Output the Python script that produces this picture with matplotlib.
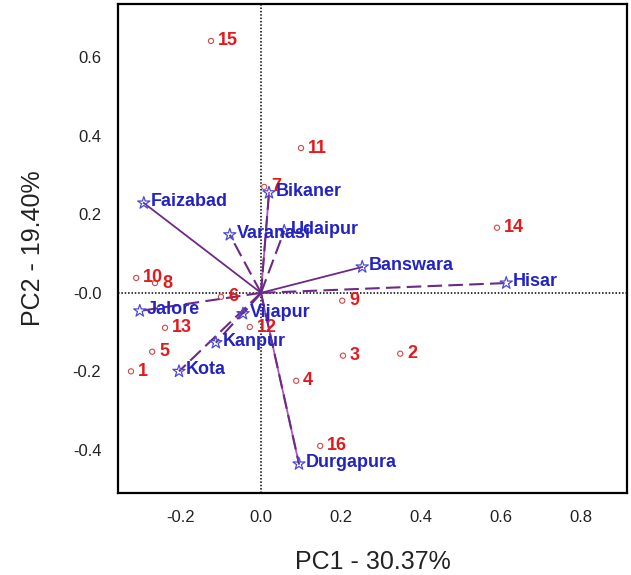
import matplotlib.pyplot as plt

plt.rcParams['font.family'] = ['Liberation Sans', 'DejaVu Sans']

# genotype scores
obs_labels = ['1', '2', '3', '4', '5', '6', '7', '8', '9', '10', '11', '12', '13', '14', '15', '16']
obs_pc1 = [-0.325, 0.348, 0.205, 0.088, -0.272, -0.100, 0.008, -0.265, 0.203, -0.312, 0.100, -0.028, -0.240, 0.590, -0.125, 0.148]
obs_pc2 = [-0.200, -0.155, -0.160, -0.224, -0.150, -0.010, 0.270, 0.025, -0.020, 0.038, 0.369, -0.087, -0.089, 0.166, 0.642, -0.390]

# environment loadings
env_labels = ['Faizabad', 'Bikaner', 'Varanasi', 'Udaipur', 'Banswara', 'Hisar',
              'Jalore', 'Vijapur', 'Kanpur', 'Kota', 'Durgapura']
env_pc1 = [-0.293, 0.020, -0.078, 0.058, 0.253, 0.613, -0.303, -0.045, -0.113, -0.205, 0.095]
env_pc2 = [0.229, 0.255, 0.148, 0.158, 0.066, 0.025, -0.046, -0.053, -0.127, -0.200, -0.436]

solid_vec = ['Faizabad', 'Banswara', 'Bikaner', 'Durgapura']
dashed_vec = ['Bikaner', 'Varanasi', 'Udaipur', 'Hisar', 'Jalore', 'Vijapur', 'Kanpur', 'Kota', 'Durgapura']

purple = '#6a2a86'
blue = '#2323c4'
red = '#e3191c'

fig = plt.figure(figsize=(6.31, 5.75), dpi=100)
ax = fig.add_axes([0.187, 0.1426, 0.8067, 0.8504])

ax.axhline(0, color='black', linestyle=(0, (1, 1.2)), linewidth=1.1, zorder=1)
ax.axvline(0, color='black', linestyle=(0, (1, 1.2)), linewidth=1.1, zorder=1)

for name, x, y in zip(env_labels, env_pc1, env_pc2):
    if name in solid_vec:
        c = purple if name in ('Faizabad', 'Banswara') else '#b057b8'
        ax.plot([0, x], [0, y], color=c, linewidth=1.3, zorder=2)
    if name in dashed_vec:
        ax.plot([0, x], [0, y], color=purple, linewidth=1.5,
                linestyle=(0, (7, 3)), zorder=3)

ax.scatter(obs_pc1, obs_pc2, s=14, facecolors='none', edgecolors='#d04848',
           linewidths=0.8, zorder=4)
for lab, x, y in zip(obs_labels, obs_pc1, obs_pc2):
    ax.annotate(lab, (x, y), xytext=(5, 0), textcoords='offset points',
                ha='left', va='center', color=red, fontsize=13, fontweight='bold', zorder=6)

ax.scatter(env_pc1, env_pc2, s=85, marker='*', facecolors='none', edgecolors='#4a4ad8',
           linewidths=0.9, zorder=5)
for lab, x, y in zip(env_labels, env_pc1, env_pc2):
    ax.annotate(lab, (x, y), xytext=(5, 1), textcoords='offset points',
                ha='left', va='center', color=blue, fontsize=13, fontweight='bold', zorder=6)

ax.set_xlim(-0.3575, 0.915)
ax.set_ylim(-0.51, 0.736)

xt = [-0.2, 0.0, 0.2, 0.4, 0.6, 0.8]
yt = [-0.4, -0.2, 0.0, 0.2, 0.4, 0.6]
ax.set_xticks(xt)
ax.set_xticklabels(['-0.2', '0.0', '0.2', '0.4', '0.6', '0.8'])
ax.set_yticks(yt)
ax.set_yticklabels(['-0.4', '-0.2', '-0.0', '0.2', '0.4', '0.6'])
ax.tick_params(length=0, labelsize=12, colors='#222222', pad=12)

for s in ax.spines.values():
    s.set_linewidth(1.6)

ax.set_xlabel('PC1 - 30.37%', fontsize=18, labelpad=18, color='#222222')
ax.set_ylabel('PC2 - 19.40%', fontsize=18, labelpad=20, color='#222222')

fig.savefig('out.png', dpi=100)
